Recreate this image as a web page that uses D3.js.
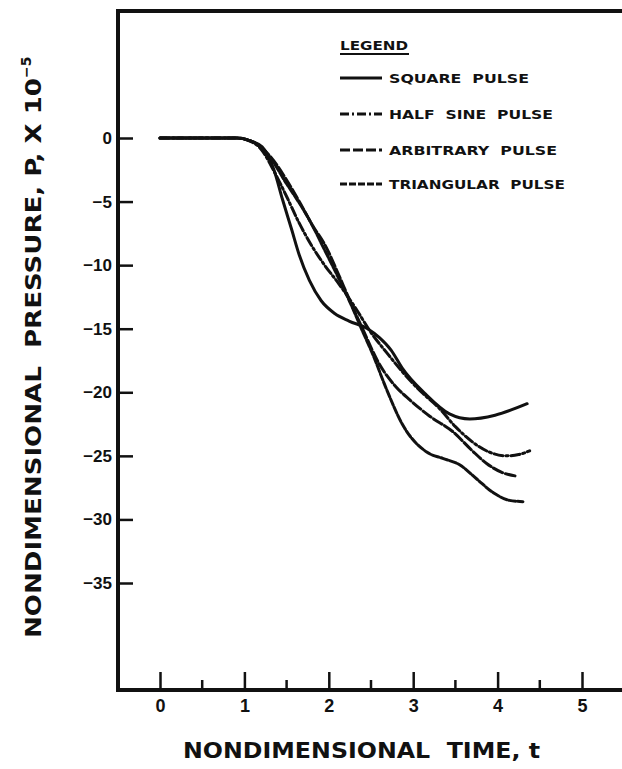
<!DOCTYPE html>
<html>
<head>
    <meta charset="UTF-8">
    <title>Nondimensional pressure vs time</title>
    <script src="https://cdn.jsdelivr.net/npm/d3@7"></script>
    <style>
        body { margin: 0; background: #fff; }
        text { font-family: "DejaVu Sans", "Liberation Sans", sans-serif; font-weight: bold; fill: #111; }
    </style>
</head>
<body>
<svg id="chart" width="622" height="769"></svg>
<script>
    // values: [t, P]
    var squarePulse = [[0, 0], [0.5, 0], [0.9, 0], [1.06, -0.2], [1.21, -0.7], [1.35, -2.5], [1.45, -4.8],
        [1.56, -7.2], [1.65, -9.2], [1.77, -11.2], [1.91, -12.8], [2.07, -13.8], [2.24, -14.4], [2.46, -15.0],
        [2.6, -15.7], [2.74, -16.7], [2.87, -18.1], [3.14, -20.1], [3.43, -21.7], [3.67, -22.1], [3.97, -21.8], [4.35, -20.9]];
    var halfSinePulse = [[0, 0], [0.5, 0], [0.9, 0], [1.05, -0.2], [1.2, -0.9], [1.35, -2.6], [1.5, -4.6],
        [1.65, -6.7], [1.8, -8.5], [1.95, -10.0], [2.1, -11.3], [2.3, -13.2], [2.5, -15.3], [2.7, -17.0],
        [2.9, -18.6], [3.1, -20.0], [3.3, -21.2], [3.5, -22.7], [3.7, -23.9], [3.9, -24.7], [4.1, -25.0],
        [4.25, -24.9], [4.38, -24.6]];
    var arbitraryPulse = [[0, 0], [0.5, 0], [0.9, 0], [1.1, -0.3], [1.3, -1.4], [1.5, -3.3], [1.65, -5.0],
        [1.8, -6.8], [1.97, -8.6], [2.1, -10.5], [2.25, -12.8], [2.4, -15.0], [2.6, -17.8], [2.8, -19.6],
        [2.96, -20.6], [3.2, -21.9], [3.47, -23.1], [3.7, -24.6], [3.87, -25.6], [4.05, -26.3], [4.23, -26.6]];
    var triangularPulse = [[0, 0], [0.5, 0], [0.9, 0], [1.1, -0.3], [1.3, -1.5], [1.5, -3.6], [1.6, -4.6],
        [1.75, -6.2], [1.95, -8.8], [2.1, -10.8], [2.25, -12.9], [2.4, -15.2], [2.52, -17.0], [2.68, -19.7],
        [2.87, -22.5], [3.16, -24.7], [3.35, -25.2], [3.55, -25.7], [3.75, -26.8], [3.95, -27.9],
        [4.14, -28.5], [4.3, -28.6]];

    var xTicks = [0, 1, 2, 3, 4, 5];
    var xMinorTicks = [0.5, 1.5, 2.5, 3.5, 4.5];
    var yTicks = [0, -5, -10, -15, -20, -25, -30, -35];

    var legendNames = ["SQUARE  PULSE", "HALF  SINE  PULSE", "ARBITRARY  PULSE", "TRIANGULAR  PULSE"];

    var series = [
        {name: legendNames[0], values: squarePulse, dash: null},
        {name: legendNames[1], values: halfSinePulse, dash: "9,3,2,3"},
        {name: legendNames[2], values: arbitraryPulse, dash: "10,3"},
        {name: legendNames[3], values: triangularPulse, dash: "7,2"}
    ];

    var svg = d3.select("#chart");

    var x = d3.scaleLinear().domain([0, 5]).range([160, 582]);
    var y = d3.scaleLinear().domain([0, -35]).range([138, 583]);

    var frameLeft = 118, frameTop = 11, frameBottom = 690, frameRight = 622;

    // frame
    svg.append("path")
        .attr("d", "M" + frameRight + "," + frameTop + "H" + frameLeft + "V" + frameBottom + "H" + frameRight)
        .attr("fill", "none")
        .attr("stroke", "#111")
        .attr("stroke-width", 4);

    // x axis: major ticks inward, minor half ticks
    var xAxis = d3.axisBottom(x)
        .tickValues(xTicks)
        .tickSizeInner(-18)
        .tickSizeOuter(0)
        .tickPadding(12)
        .tickFormat(d3.format("d"));

    var gx = svg.append("g")
        .attr("transform", "translate(0," + frameBottom + ")")
        .call(xAxis);
    gx.select(".domain").remove();
    gx.selectAll(".tick line").attr("stroke", "#111").attr("stroke-width", 2.5);
    gx.selectAll(".tick text")
        .attr("y", 9)
        .style("font-size", "18px")
        .style("font-family", "'Liberation Sans', sans-serif")
        .style("font-weight", "bold")
        .attr("fill", "#111");

    svg.append("g").selectAll("line")
        .data(xMinorTicks)
        .enter()
        .append("line")
        .attr("x1", function(d) { return x(d); })
        .attr("x2", function(d) { return x(d); })
        .attr("y1", frameBottom)
        .attr("y2", frameBottom - 10)
        .attr("stroke", "#111")
        .attr("stroke-width", 2.5);

    // y axis
    var yAxis = d3.axisLeft(y)
        .tickValues(yTicks)
        .tickSizeInner(-15)
        .tickSizeOuter(0)
        .tickPadding(6)
        .tickFormat(function(d) { return d === 0 ? "0" : "\u2212" + Math.abs(d); });

    var gy = svg.append("g")
        .attr("transform", "translate(" + frameLeft + ",0)")
        .call(yAxis);
    gy.select(".domain").remove();
    gy.selectAll(".tick line").attr("stroke", "#111").attr("stroke-width", 2.5);
    gy.selectAll(".tick text")
        .style("font-size", "17px")
        .style("font-family", "'Liberation Sans', sans-serif")
        .style("font-weight", "bold")
        .attr("fill", "#111");

    // curves
    var line = d3.line()
        .x(function(d) { return x(d[0]); })
        .y(function(d) { return y(d[1]); })
        .curve(d3.curveMonotoneX);

    svg.append("g").selectAll("path")
        .data(series)
        .enter()
        .append("path")
        .attr("d", function(s) { return line(s.values); })
        .attr("fill", "none")
        .attr("stroke", "#111")
        .attr("stroke-width", 3)
        .attr("stroke-linecap", "round")
        .attr("stroke-dasharray", function(s) { return s.dash; });

    // legend
    var legend = svg.append("g");
    legend.append("text")
        .attr("x", 340)
        .attr("y", 50)
        .attr("textLength", 68)
        .attr("lengthAdjust", "spacingAndGlyphs")
        .style("font-size", "12px")
        .text("LEGEND");
    legend.append("line")
        .attr("x1", 340).attr("x2", 409)
        .attr("y1", 54).attr("y2", 54)
        .attr("stroke", "#111").attr("stroke-width", 2);

    var legendY = [78, 114, 150, 184];
    var legendLen = [140, 164, 168, 176];

    var rows = legend.selectAll("g.row")
        .data(series)
        .enter()
        .append("g")
        .attr("class", "row")
        .attr("transform", function(d, i) { return "translate(0," + legendY[i] + ")"; });

    rows.append("line")
        .attr("x1", 340).attr("x2", 382)
        .attr("y1", 0).attr("y2", 0)
        .attr("stroke", "#111")
        .attr("stroke-width", 3)
        .attr("stroke-dasharray", function(s) { return s.dash; });

    rows.append("text")
        .attr("x", 389)
        .attr("y", 5)
        .attr("textLength", function(d, i) { return legendLen[i]; })
        .attr("lengthAdjust", "spacingAndGlyphs")
        .style("font-size", "12px")
        .style("white-space", "pre")
        .text(function(s) { return s.name; });

    // axis titles
    svg.append("text")
        .attr("x", 183)
        .attr("y", 758)
        .attr("textLength", 357)
        .attr("lengthAdjust", "spacingAndGlyphs")
        .style("font-size", "22px")
        .style("white-space", "pre")
        .text("NONDIMENSIONAL  TIME, t");

    var yTitle = svg.append("text")
        .attr("transform", "translate(41,638) rotate(-90)")
        .style("font-size", "22px")
        .style("white-space", "pre");
    yTitle.append("tspan")
        .attr("textLength", 560)
        .attr("lengthAdjust", "spacingAndGlyphs")
        .text("NONDIMENSIONAL  PRESSURE, P, X 10");
    yTitle.append("tspan")
        .attr("dy", -10)
        .style("font-size", "14px")
        .text("\u22125");
</script>
</body>
</html>
